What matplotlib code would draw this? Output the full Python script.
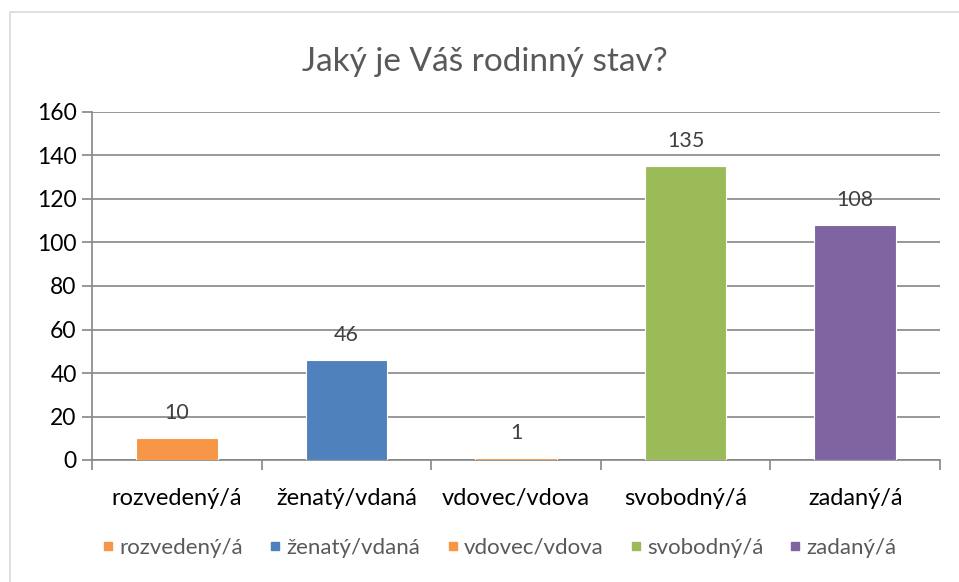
import numpy as np
import matplotlib.pyplot as plt
from matplotlib.patches import Rectangle
from matplotlib.lines import Line2D

plt.rcParams['font.family'] = ['Lato', 'DejaVu Sans']

# data
kategorie = ['rozvedený/á', 'ženatý/vdaná', 'vdovec/vdova', 'svobodný/á', 'zadaný/á']
pocty = [10, 46, 1, 135, 108]
barvy = ['#F79646', '#4F81BD', '#F79646', '#9BBB59', '#8064A2']
y_ticks = [0, 20, 40, 60, 80, 100, 120, 140, 160]

fig = plt.figure(figsize=(9.59, 5.82), dpi=100)
# vnejsi ramecek (vpravo a dole oriznuty jako na screenshotu)
fig.patches.append(Rectangle((10 / 959, -0.1), 1.2, 1 - 12 / 582 + 0.1,
                             transform=fig.transFigure, fill=False,
                             edgecolor='#D9D9D9', linewidth=1.2))

ax = fig.add_axes([92 / 959, 1 - 460 / 582, (940 - 92) / 959, (460 - 112) / 582])

x = np.arange(len(kategorie))
ax.bar(x, pocty, width=0.48, color=barvy, edgecolor='white', linewidth=0.8, zorder=3)

for xi, v in zip(x, pocty):
    ax.annotate(str(v), (xi, v), xytext=(0, 18), textcoords='offset points',
                ha='center', va='center', fontsize=15.5, color='#404040', zorder=4)

ax.set_xlim(-0.5, len(kategorie) - 0.5)
ax.set_ylim(0, 160)
ax.set_yticks(y_ticks)
ax.yaxis.grid(True, color='#868686', linewidth=1.2, zorder=0)
ax.tick_params(axis='y', labelsize=16.5, length=7, color='#868686', width=1.2, labelcolor='black', pad=4)

ax.set_xticks(x)
ax.set_xticklabels(kategorie, fontsize=17)
ax.tick_params(axis='x', length=0, pad=20, labelcolor='black')
ax.set_xticks(np.arange(-0.5, len(kategorie)), minor=True)
ax.tick_params(axis='x', which='minor', length=7, color='#868686', width=1.2)

for s in ['top', 'right']:
    ax.spines[s].set_visible(False)
for s in ['left', 'bottom']:
    ax.spines[s].set_color('#868686')
    ax.spines[s].set_linewidth(1.2)

fig.text(0.506, 1 - 62 / 582, 'Jaký je Váš rodinný stav?', ha='center', va='center',
         fontsize=24, color='#595959')

handles = [Line2D([], [], marker='s', linestyle='none', markersize=6, color=c) for c in barvy]
fig.legend(handles, kategorie, loc='center', bbox_to_anchor=(0.52, 1 - 548 / 582), ncol=5,
           frameon=False, fontsize=16, handletextpad=0.15, handlelength=0.7,
           columnspacing=1.1, labelcolor='#595959')

fig.savefig('out.png', dpi=100)
